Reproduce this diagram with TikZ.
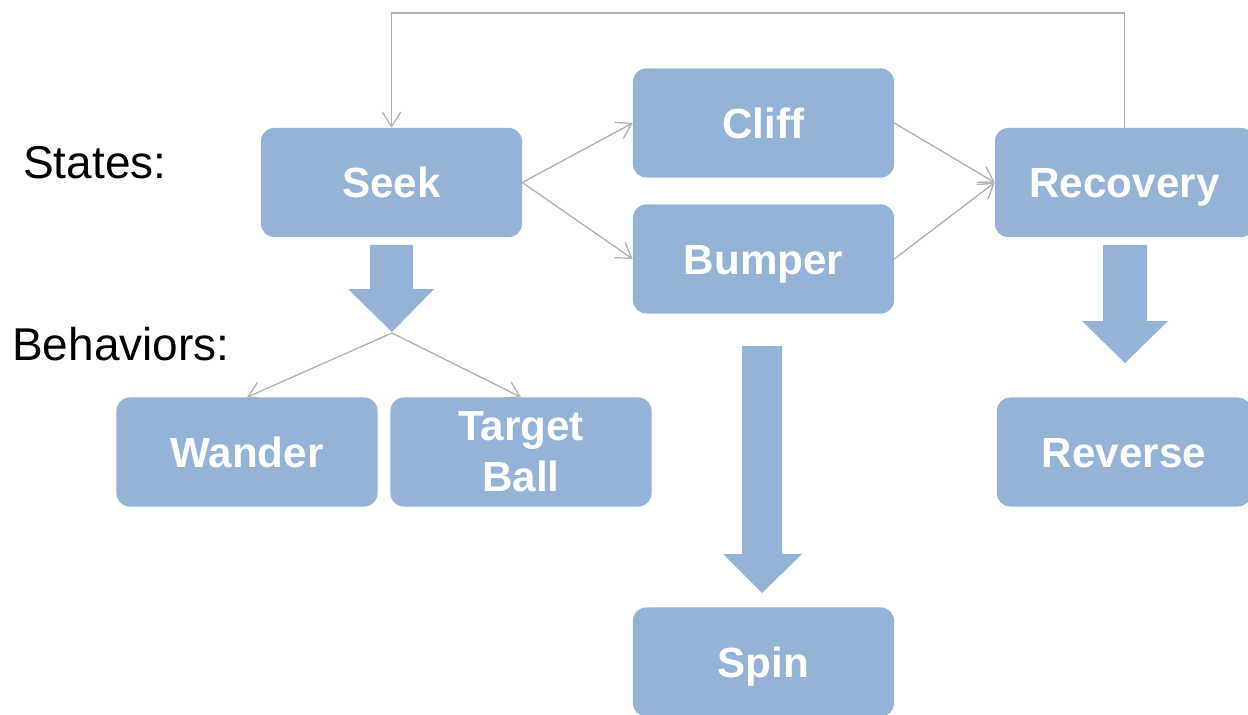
\documentclass[tikz,border=0pt]{standalone}
\usepackage{fontspec}
\setmainfont{Liberation Sans}
\usetikzlibrary{arrows.meta}
\definecolor{boxblue}{RGB}{149,179,215}
\definecolor{linegray}{RGB}{175,175,175}
\tikzset{
  box/.style={fill=boxblue, draw=none, rounded corners=0.33cm,
    minimum width=6.525cm, minimum height=2.725cm, inner sep=0pt,
    text=white, align=center,
    font=\fontsize{30}{36}\selectfont\bfseries},
  oneline/.style={box, text height=21.5pt, text depth=0pt},
  conn/.style={draw=linegray, line width=0.9pt,
    -{Straight Barb[length=0.36cm, width=0.46cm, line width=0.9pt]}},
  plain/.style={draw=linegray, line width=0.9pt},
  blockarrow/.style={fill=boxblue, draw=none},
  lbl/.style={anchor=base west, inner sep=0pt, font=\fontsize{32.7}{36}\selectfont}
}
\begin{document}
\begin{tikzpicture}[x=0.025cm, y=-0.025cm]
\useasboundingbox (0,0) rectangle (1248,715);
% labels
\node[lbl] (states) at (23,179) {States:};
\node[lbl] (behav) at (12,360) {Behaviors:};
% state boxes
\node[oneline] (seek) at (391.5,182.5) {Seek};
\node[oneline] (cliff) at (763.5,123) {Cliff};
\node[oneline] (bumper) at (763.5,259) {Bumper};
\node[oneline, minimum width=6.475cm] (recovery) at (1124.5,182.5) {Recovery};
% behavior boxes
\node[oneline] (wander) at (247,452) {Wander};
\node[box] (target) at (521,452) {Target\\Ball};
\node[oneline] (spin) at (763.5,662) {Spin};
\node[oneline, minimum width=6.35cm] (reverse) at (1124,452) {Reverse};
% block arrows
\fill[blockarrow] (370,245) -- (413,245) -- (413,289) -- (434,289) -- (392,332) -- (348,289) -- (370,289) -- cycle;
\coordinate (tip1) at (392,333);
\fill[blockarrow] (742,346) -- (782,346) -- (782,554) -- (802,554) -- (762,593) -- (723,554) -- (742,554) -- cycle;
\fill[blockarrow] (1103,245) -- (1147,245) -- (1147,321) -- (1168,321) -- (1125,363) -- (1082,321) -- (1103,321) -- cycle;
% connectors
\draw[conn] (seek.east) -- (cliff.west);
\draw[conn] (seek.east) -- (bumper.west);
\draw[conn] (cliff.east) -- (recovery.west);
\draw[conn] (bumper.east) -- (recovery.west);
\coordinate (top) at (0,13);
\draw[conn] (recovery.north) -- (recovery.north |- top) -- (seek.north |- top) -- (seek.north);
\draw[conn] (tip1) -- (wander.north);
\draw[conn] (tip1) -- (target.north);
\end{tikzpicture}
\end{document}
